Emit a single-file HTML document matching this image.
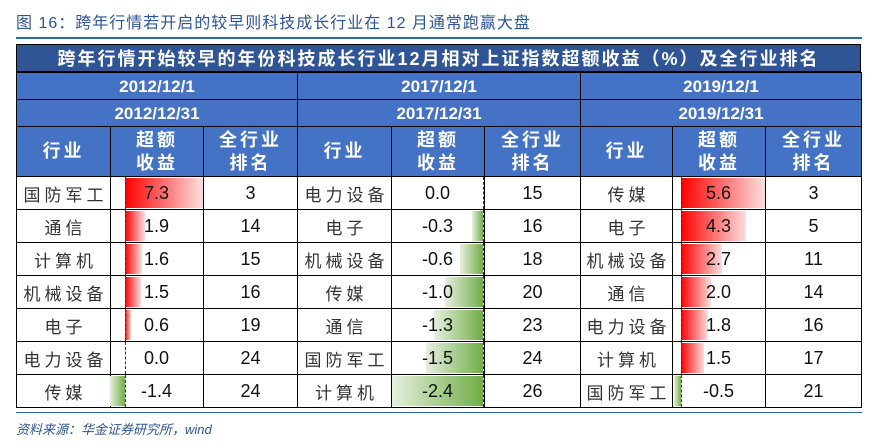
<!DOCTYPE html>
<html><head><meta charset="utf-8"><style>
body{margin:0;width:876px;height:444px;background:#fff;position:relative;overflow:hidden;font-family:"Liberation Sans","Noto Sans CJK SC",sans-serif}
.a{position:absolute;box-sizing:border-box}
.c{display:flex;align-items:center;justify-content:center;text-align:center}
.h{background:#4472c4;color:#fff;font-weight:bold;font-size:17px;line-height:23px}
.d{font-size:18px;color:#111}
.cn{letter-spacing:4px;color:#333;font-size:17px;padding-left:4px}
</style></head><body>
<div class="a" style="left:16px;top:9px;font-size:16px;color:#2e5597;letter-spacing:1px">图 16：跨年行情若开启的较早则科技成长行业在 12 月通常跑赢大盘</div>
<div class="a" style="left:16px;top:37px;width:846px;height:2px;background:#2e6aa8"></div>
<div class="a c" style="left:16px;top:44px;width:845px;height:28px;background:#2f5597;color:#fff;font-weight:bold;font-size:18px;letter-spacing:2px;border:1px solid #000">跨年行情开始较早的年份科技成长行业12月相对上证指数超额收益（%）及全行业排名</div>
<div id="t"></div>
<div class="a" style="left:16px;top:412px;width:846px;height:1px;background:#2e6aa8"></div>
<div class="a" style="left:16px;top:419px;font-size:13px;color:#2e5597;font-style:italic">资料来源：华金证券研究所，wind</div>
<script>
const groups=[
{x:[16,110,203,297],d1:"2012/12/1",d2:"2012/12/31",axis:125,sc:10.7,rows:[["国防军工",7.3,3],["通信",1.9,14],["计算机",1.6,15],["机械设备",1.5,16],["电子",0.6,19],["电力设备",0.0,24],["传媒",-1.4,24]]},
{x:[297,391,484,580],d1:"2017/12/1",d2:"2017/12/31",axis:483,sc:38,rows:[["电力设备",0.0,15],["电子",-0.3,16],["机械设备",-0.6,18],["传媒",-1.0,20],["通信",-1.3,23],["国防军工",-1.5,24],["计算机",-2.4,26]]},
{x:[580,672,765,861],d1:"2019/12/1",d2:"2019/12/31",axis:681,sc:15,rows:[["传媒",5.6,3],["电子",4.3,5],["机械设备",2.7,11],["通信",2.0,14],["电力设备",1.8,16],["计算机",1.5,17],["国防军工",-0.5,21]]}];
let h="";
const B="border:1px solid #000;";
for(const g of groups){
 const x=g.x,w=x[3]-x[0];
 h+=`<div class="a c h" style="left:${x[0]}px;top:72px;width:${w+1}px;height:28px;${B}">${g.d1}</div>`;
 h+=`<div class="a c h" style="left:${x[0]}px;top:99px;width:${w+1}px;height:28px;${B}">${g.d2}</div>`;
 const hd=["行业","超额<br>收益","全行业<br>排名"];
 for(let i=0;i<3;i++)h+=`<div class="a c h" style="left:${x[i]}px;top:126px;width:${x[i+1]-x[i]+1}px;height:51px;${B}letter-spacing:3px;font-size:18px">${hd[i]}</div>`;
 g.rows.forEach((r,k)=>{
  const y=176+k*33;
  h+=`<div class="a c d cn" style="left:${x[0]}px;top:${y}px;width:${x[1]-x[0]+1}px;height:34px;${B}">${r[0]}</div>`;
  h+=`<div class="a" style="left:${x[1]}px;top:${y}px;width:${x[2]-x[1]+1}px;height:34px;${B}"></div>`;
  const v=r[1],len=Math.abs(v)*g.sc;
  if(v>0)h+=`<div class="a" style="left:${g.axis}px;top:${y+2}px;width:${len}px;height:30px;background:linear-gradient(90deg,#ff0000,#ffdede)"></div>`;
  if(v<0)h+=`<div class="a" style="left:${g.axis-len}px;top:${y+2}px;width:${len}px;height:30px;background:linear-gradient(90deg,#e6f0de,#70ad47)"></div>`;
  h+=`<div class="a" style="left:${g.axis}px;top:${y+1}px;width:0;height:32px;border-left:1px dashed #333"></div>`;
  h+=`<div class="a c d" style="left:${x[1]}px;top:${y}px;width:${x[2]-x[1]}px;height:34px">${v.toFixed(1)}</div>`;
  h+=`<div class="a c d" style="left:${x[2]}px;top:${y}px;width:${x[3]-x[2]+1}px;height:34px;${B}">${r[2]}</div>`;
 });
}
document.getElementById("t").innerHTML=h;
</script>
</body></html>
